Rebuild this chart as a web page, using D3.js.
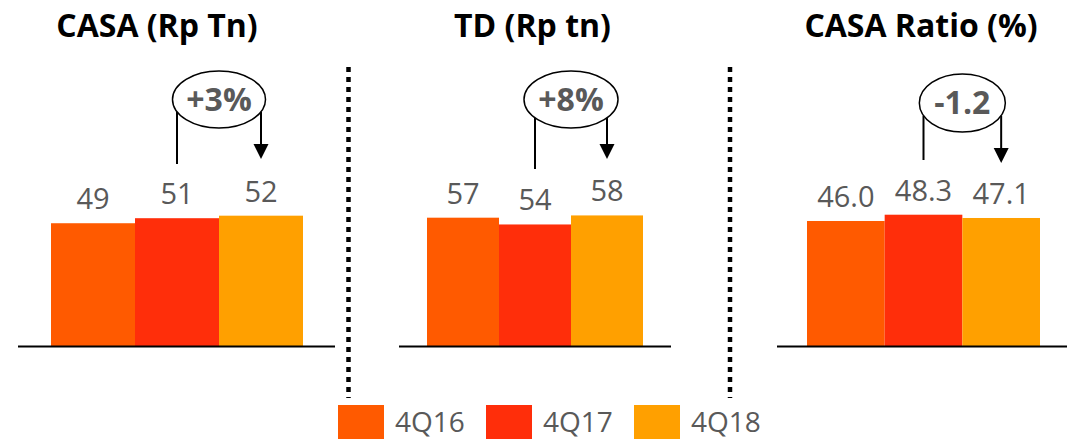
<!DOCTYPE html>
<html>
<head>
<meta charset="utf-8">
<script src="https://cdn.jsdelivr.net/npm/d3@7"></script>
<style>
  html, body { margin: 0; padding: 0; background: #fff; }
  svg { display: block; }
</style>
</head>
<body>
<svg id="chart" width="1067" height="439"></svg>
<script>
// Quarters shown in every panel
const periods = ["4Q16", "4Q17", "4Q18"];
const colors = ["#FF5A00", "#FF2E0A", "#FFA000"];

// Values per panel
const casaValues = [49, 51, 52];
const tdValues = [57, 54, 58];
const ratioValues = [46.0, 48.3, 47.1];

// Panel titles and change badges
const titles = ["CASA (Rp Tn)", "TD (Rp tn)", "CASA Ratio (%)"];
const badges = ["+3%", "+8%", "-1.2"];
const valueFormats = [d3.format("d"), d3.format("d"), d3.format(".1f")];

const svg = d3.select("#chart");
const baseY = 346.5;
const plotH = 200;

// Layout of each panel: axis line extent, bar band extent, scale maximum, badge placement
const panels = [
  { values: casaValues,  lineX: [18, 335],  barX: [51, 303],  yMax: 79.5, cy: 99.5, rx: 46.5, ry: 28.5, stemEnd: 164, tip: 159, titleX: 157 },
  { values: tdValues,    lineX: [399, 671], barX: [427, 643], yMax: 88.5, cy: 99.5, rx: 47,   ry: 28.5, stemEnd: 169, tip: 159, titleX: 532.5 },
  { values: ratioValues, lineX: [777, 1067], barX: [807, 1040], yMax: 73.3, cy: 103, rx: 43,  ry: 29,   stemEnd: 160, tip: 163, titleX: 921 }
];

const labelFont = "'Open Sans', 'DejaVu Sans', sans-serif";

panels.forEach((p, i) => {
  const g = svg.append("g");
  const x = d3.scaleBand().domain(periods).range(p.barX).paddingInner(0).paddingOuter(0);
  const y = d3.scaleLinear().domain([0, p.yMax]).range([baseY, baseY - plotH]);

  // bars
  g.selectAll("rect.bar")
    .data(p.values)
    .join("rect")
    .attr("class", "bar")
    .attr("x", (d, j) => x(periods[j]))
    .attr("width", x.bandwidth())
    .attr("y", d => y(d))
    .attr("height", d => y(0) - y(d))
    .attr("fill", (d, j) => colors[j]);

  // value labels
  g.selectAll("text.val")
    .data(p.values)
    .join("text")
    .attr("class", "val")
    .attr("x", (d, j) => x(periods[j]) + x.bandwidth() / 2)
    .attr("y", d => y(d) - 14)
    .attr("text-anchor", "middle")
    .attr("font-family", labelFont)
    .attr("font-size", 29)
    .attr("fill", "#595959")
    .text(d => valueFormats[i](d));

  // baseline
  g.append("line")
    .attr("x1", p.lineX[0]).attr("x2", p.lineX[1])
    .attr("y1", baseY).attr("y2", baseY)
    .attr("stroke", "#000").attr("stroke-width", 2);

  // title
  g.append("text")
    .attr("x", p.titleX)
    .attr("y", 37)
    .attr("text-anchor", "middle")
    .attr("font-family", labelFont)
    .attr("font-weight", "bold")
    .attr("font-size", 32)
    .attr("fill", "#000")
    .text(titles[i]);

  // change badge: ellipse joined to bar 2 and arrow to bar 3
  const xa = x(periods[1]) + x.bandwidth() / 2;
  const xb = x(periods[2]) + x.bandwidth() / 2;
  const cx = (xa + xb) / 2;
  const ellY = xx => p.cy + p.ry * Math.sqrt(Math.max(0, 1 - Math.pow((xx - cx) / p.rx, 2)));

  g.append("line")
    .attr("x1", xa).attr("x2", xa)
    .attr("y1", ellY(xa)).attr("y2", p.stemEnd)
    .attr("stroke", "#000").attr("stroke-width", 2);

  g.append("line")
    .attr("x1", xb).attr("x2", xb)
    .attr("y1", ellY(xb)).attr("y2", p.tip - 14)
    .attr("stroke", "#000").attr("stroke-width", 2);

  g.append("path")
    .attr("d", `M${xb - 7.5},${p.tip - 15} L${xb + 7.5},${p.tip - 15} L${xb},${p.tip} Z`)
    .attr("fill", "#000");

  g.append("ellipse")
    .attr("cx", cx).attr("cy", p.cy)
    .attr("rx", p.rx).attr("ry", p.ry)
    .attr("fill", "#fff")
    .attr("stroke", "#000").attr("stroke-width", 1.5);

  g.append("text")
    .attr("x", cx)
    .attr("y", p.cy + 11)
    .attr("text-anchor", "middle")
    .attr("font-family", labelFont)
    .attr("font-weight", "bold")
    .attr("font-size", 32)
    .attr("fill", "#595959")
    .text(badges[i]);
});

// dotted separators between panels
[348.5, 730].forEach(sx => {
  svg.append("line")
    .attr("x1", sx).attr("x2", sx)
    .attr("y1", 67).attr("y2", 398)
    .attr("stroke", "#000")
    .attr("stroke-width", 4.5)
    .attr("stroke-dasharray", "5,5");
});

// legend
const legendX = [338, 486, 634];
const legend = svg.append("g");
periods.forEach((q, j) => {
  legend.append("rect")
    .attr("x", legendX[j]).attr("y", 405)
    .attr("width", 46).attr("height", 34)
    .attr("fill", colors[j]);
  legend.append("text")
    .attr("x", legendX[j] + 57).attr("y", 432)
    .attr("font-family", labelFont)
    .attr("font-size", 28)
    .attr("fill", "#595959")
    .text(q);
});
</script>
</body>
</html>
